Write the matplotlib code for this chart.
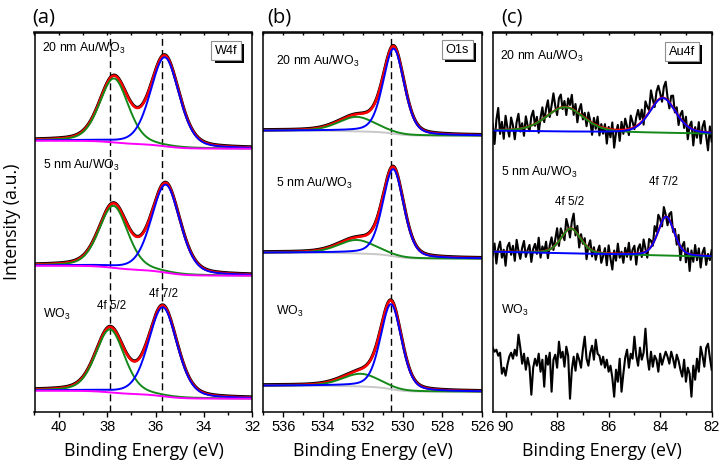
import matplotlib.pyplot as plt
import matplotlib.patheffects as pe
from matplotlib.ticker import MultipleLocator, NullFormatter
import numpy as np

plt.rcParams['font.family'] = ['Liberation Sans', 'DejaVu Sans']
plt.rcParams['mathtext.fontset'] = 'custom'
plt.rcParams['mathtext.rm'] = 'Liberation Sans'
plt.rcParams['mathtext.it'] = 'Liberation Sans:italic'

samples = ['20 nm Au/WO$_3$', '5 nm Au/WO$_3$', 'WO$_3$']

# W4f (a): peak centre (eV), height, FWHM, background at both ends
w_pos_52 = [37.72, 37.74, 37.88]
w_amp_52 = [64, 62, 63]
w_pos_72 = [35.62, 35.58, 35.70]
w_amp_72 = [89, 88, 89]
w_fwhm = 1.4
w_bg_hi = [271, 146, 21]
w_bg_lo = [263, 136, 13]
w_marks = [37.88, 35.72]

# O1s (b)
o_pos_main = [530.45, 530.47, 530.58]
o_amp_main = [85, 87, 85]
o_pos_oh = [532.3, 532.3, 532.1]
o_amp_oh = [14.5, 13.5, 12.7]
o_fwhm_main = 1.25
o_fwhm_oh = 2.2
o_bg_hi = [281, 159, 26]
o_bg_lo = [276, 153, 20]
o_mark = 530.6

# Au4f (c), only the two Au samples have fitted peaks
a_pos_52 = [87.7, 87.47]
a_amp_52 = [24.5, 25]
a_fwhm_52 = [1.7, 0.9]
a_pos_72 = [83.9, 83.77]
a_amp_72 = [35, 39]
a_fwhm_72 = [1.2, 0.75]
a_bg_hi = [281, 160, 50]
a_bg_lo = [278, 155, 50]

# raw Au4f counts minus fit (90.5 -> 82 eV)
a_res_20 = [6, -14, 10, 22, -4, 8, -9, 14, 2, -7,
            12, 4, -10, 7, 15, -3, 5, -8, 11, 1,
            -5, 9, 14, -2, 6, -11, 3, 12, -4, 8,
            15, -3, 7, 18, 4, -6, 10, 13, -2, 6,
            -8, 9, 3, 14, -5, 7, -10, 4, 11, -3,
            5, -7, 8, 1, -12, 6, -4, 9, -9, 3,
            -6, 4, -15, 2, -8, 7, -18, -3, 5, -11,
            8, -4, 11, 3, -6, 13, 6, -2, 9, 15,
            4, 12, -5, 16, 8, 2, 19, 7, -3, 10,
            14, 5, -4, 11, 17, 3, -6, 9, 12, -2,
            6, -9, 4, 10, -5, 8, -13, 2, 7, -16,
            3, -7, 9, -12, 5, 11, -4, -18, 6, -9]
a_res_5 = [-4, 8, -12, 3, 10, -6, 2, -14, 5, 9,
           -3, 6, -9, 12, 1, -7, 4, 11, -5, 2,
           7, -10, 3, 8, -2, 14, -6, 5, -1, 9,
           -8, 4, 11, -3, 6, 15, -5, 10, 2, -7,
           12, 3, -9, 7, 16, -4, 8, -11, 5, -2,
           6, -13, 2, 9, -6, 4, -8, 1, 7, -10,
           -3, 5, -12, 8, -5, -16, 3, -7, 10, -4,
           2, -9, 6, -3, 11, -6, 4, 8, -11, 5,
           9, -4, 13, 3, -7, 10, 6, -2, 14, 4,
           16, 7, -5, 11, 2, -8, 6, 12, -3, 5,
           -6, 8, -14, 3, 9, -10, 5, -17, 4, -7,
           10, -5, 7, -12, 3, 8, -9, 2, -4, 6]
a_res_0 = [14, 10, 12, 6, 9, -12, -6, -14, -3,
           5, 9, 3, 12, 6, 27, 14,
           -2, 8, -8, 4, -5, -33, -6,
           3, -4, 8, -10, 2, -25, 6, -3, 9, -30, 2, 7, -6,
           20, 4, 10, -5, 15, 6, -37, -8,
           5, -9, 8, 2, -6, 12, 25, 3, -4, 9, 16, 2, 22, 8,
           6, -3, 5, -6, 2,
           -10, -4, -16, -35, -8, -20, 3, -30, -12,
           4, 12, -6, 8, 3,
           25, 6, -4, 14, 2, 9, 33, 5, -8, 10,
           -5, 6, 2, -10, 8, -3, 4, 10,
           5, -2, 10, 3, -6, 7, 1,
           -8, -15, 2, -20, -6, -12, -35, -4, -18, 3, -10,
           15, 6, -5, 14, 18, 4, -8]

GREEN = '#14891a'


def pv(x, c, a, w, eta=0.3):
    u = (x - c) / w
    return a * ((1 - eta) * np.exp(-4 * np.log(2) * u ** 2) + eta / (1 + 4 * u ** 2))


def shirley(peaks, hi, lo):
    s = np.cumsum(peaks[::-1])[::-1]
    return lo + (hi - lo) * s / s[0]


W, H = 721, 463
fig = plt.figure(figsize=(W / 100, H / 100), dpi=100)


def add_ax(x0, x1, y0=32.5, y1=411.7):
    return fig.add_axes([x0 / W, 1 - y1 / H, (x1 - x0) / W, (y1 - y0) / H])


def style(ax, xlim):
    ax.set_xlim(*xlim)
    ax.set_ylim(0, 379.2)
    ax.set_yticks([])
    ax.xaxis.set_major_locator(MultipleLocator(2))
    ax.xaxis.set_minor_locator(MultipleLocator(1))
    ax.tick_params(axis='x', which='major', direction='out', length=3.5, width=1,
                   labelsize=10.5, pad=2.5)
    ax.tick_params(axis='x', which='minor', direction='out', length=2, width=1)
    top = ax.secondary_xaxis('top')
    top.xaxis.set_major_locator(MultipleLocator(1))
    top.xaxis.set_major_formatter(NullFormatter())
    top.tick_params(direction='in', length=2.5, width=1)
    for s in ax.spines.values():
        s.set_linewidth(1.1)
    top.spines['top'].set_linewidth(1.1)
    ax.set_xlabel('Binding Energy (eV)', family='Open Sans', fontsize=12.8, labelpad=5.5)


def tag(ax, x, y, s):
    t = ax.text(x, y, s, transform=ax.transAxes, ha='center', va='center', fontsize=9.2,
                bbox=dict(boxstyle='square,pad=0.28', fc='white', ec='#909090', lw=0.8))
    t.get_bbox_patch().set_path_effects(
        [pe.SimplePatchShadow(offset=(2.2, -2.2), shadow_rgbFace='black', alpha=1), pe.Normal()])


axa = add_ax(34.5, 252.5)
axb = add_ax(263.3, 482.3)
axc = add_ax(492.7, 711.7)

# ---- (a) W4f
ea = np.linspace(41, 32, 500)
for i in range(3):
    p52 = pv(ea, w_pos_52[i], w_amp_52[i], w_fwhm)
    p72 = pv(ea, w_pos_72[i], w_amp_72[i], w_fwhm)
    bg = shirley(p52 + p72, w_bg_hi[i], w_bg_lo[i])
    env = bg + p52 + p72
    axa.plot(ea, env + 0.6, color='black', lw=2.2)
    axa.plot(ea, env, color='red', lw=1.8)
    axa.plot(ea, bg + p52, color=GREEN, lw=1.4)
    axa.plot(ea, bg + p72, color='blue', lw=1.4)
    axa.plot(ea, bg, color='magenta', lw=1.4)
for m in w_marks:
    axa.axvline(m, color='black', lw=1.0, ls=(0, (5, 3)), zorder=1.5)
style(axa, (41, 32))
for s, (x, y) in zip(samples, [(0.033, 0.949), (0.038, 0.639), (0.040, 0.248)]):
    axa.text(x, y, s, transform=axa.transAxes, fontsize=8.8, va='baseline')
axa.text(37.81, 0.270, '4f 5/2', transform=axa.get_xaxis_transform(), ha='center',
         va='baseline', fontsize=8.3)
axa.text(35.67, 0.303, '4f 7/2', transform=axa.get_xaxis_transform(), ha='center',
         va='baseline', fontsize=8.3)
tag(axa, 0.88, 0.952, 'W4f')

# ---- (b) O1s
eb = np.linspace(537, 526, 500)
for i in range(3):
    pm = pv(eb, o_pos_main[i], o_amp_main[i], o_fwhm_main)
    po = pv(eb, o_pos_oh[i], o_amp_oh[i], o_fwhm_oh)
    bg = shirley(pm + po, o_bg_hi[i], o_bg_lo[i])
    env = bg + pm + po
    axb.plot(eb, bg, color='#c8c8c8', lw=1.4)
    axb.plot(eb, env + 0.6, color='black', lw=2.2)
    axb.plot(eb, env, color='red', lw=1.8)
    axb.plot(eb, bg + po, color=GREEN, lw=1.4)
    axb.plot(eb, bg + pm, color='blue', lw=1.4)
axb.axvline(o_mark, color='black', lw=1.0, ls=(0, (5, 3)), zorder=1.5)
style(axb, (537, 526))
for s, (x, y) in zip(samples, [(0.058, 0.914), (0.058, 0.592), (0.058, 0.255)]):
    axb.text(x, y, s, transform=axb.transAxes, fontsize=8.8, va='baseline')
tag(axb, 0.887, 0.955, 'O1s')

# ---- (c) Au4f
ec = np.linspace(90.5, 82, 500)
ec_raw = np.linspace(90.5, 82, len(a_res_0))
residuals = [a_res_20, a_res_5, a_res_0]
for i in range(3):
    lin = a_bg_lo[i] + (a_bg_hi[i] - a_bg_lo[i]) * (ec - 82) / 8.5
    lin_raw = a_bg_lo[i] + (a_bg_hi[i] - a_bg_lo[i]) * (ec_raw - 82) / 8.5
    fit_raw = lin_raw.copy()
    if i < 2:
        p52 = pv(ec, a_pos_52[i], a_amp_52[i], a_fwhm_52[i])
        p72 = pv(ec, a_pos_72[i], a_amp_72[i], a_fwhm_72[i])
        fit_raw = fit_raw + pv(ec_raw, a_pos_52[i], a_amp_52[i], a_fwhm_52[i]) \
            + pv(ec_raw, a_pos_72[i], a_amp_72[i], a_fwhm_72[i])
    axc.plot(ec_raw, fit_raw + np.array(residuals[i]), color='black', lw=1.5)
    if i < 2:
        axc.plot(ec, lin + p52 + p72, color='red', lw=1.6)
        axc.plot(ec, lin + p52, color=GREEN, lw=1.4)
        axc.plot(ec, lin + p72, color='blue', lw=1.4)
style(axc, (90.5, 82))
for s, (x, y) in zip(samples, [(0.033, 0.929), (0.036, 0.622), (0.040, 0.259)]):
    axc.text(x, y, s, transform=axc.transAxes, fontsize=8.8, va='baseline')
axc.text(87.5, 0.545, '4f 5/2', transform=axc.get_xaxis_transform(), ha='center',
         va='baseline', fontsize=8.3)
axc.text(83.86, 0.598, '4f 7/2', transform=axc.get_xaxis_transform(), ha='center',
         va='baseline', fontsize=8.3)
tag(axc, 0.864, 0.949, 'Au4f')

# panel letters and shared y label
for lab, px in [('(a)', 44), ('(b)', 279.5), ('(c)', 512.5)]:
    fig.text(px / W, 1 - 18 / H, lab, ha='center', va='center', family='Open Sans', fontsize=14.5)
fig.text(12 / W, 1 - 222 / H, 'Intensity (a.u.)', rotation=90, ha='center', va='center',
         family='Open Sans', fontsize=12.8)

fig.savefig('out.png', dpi=100)
